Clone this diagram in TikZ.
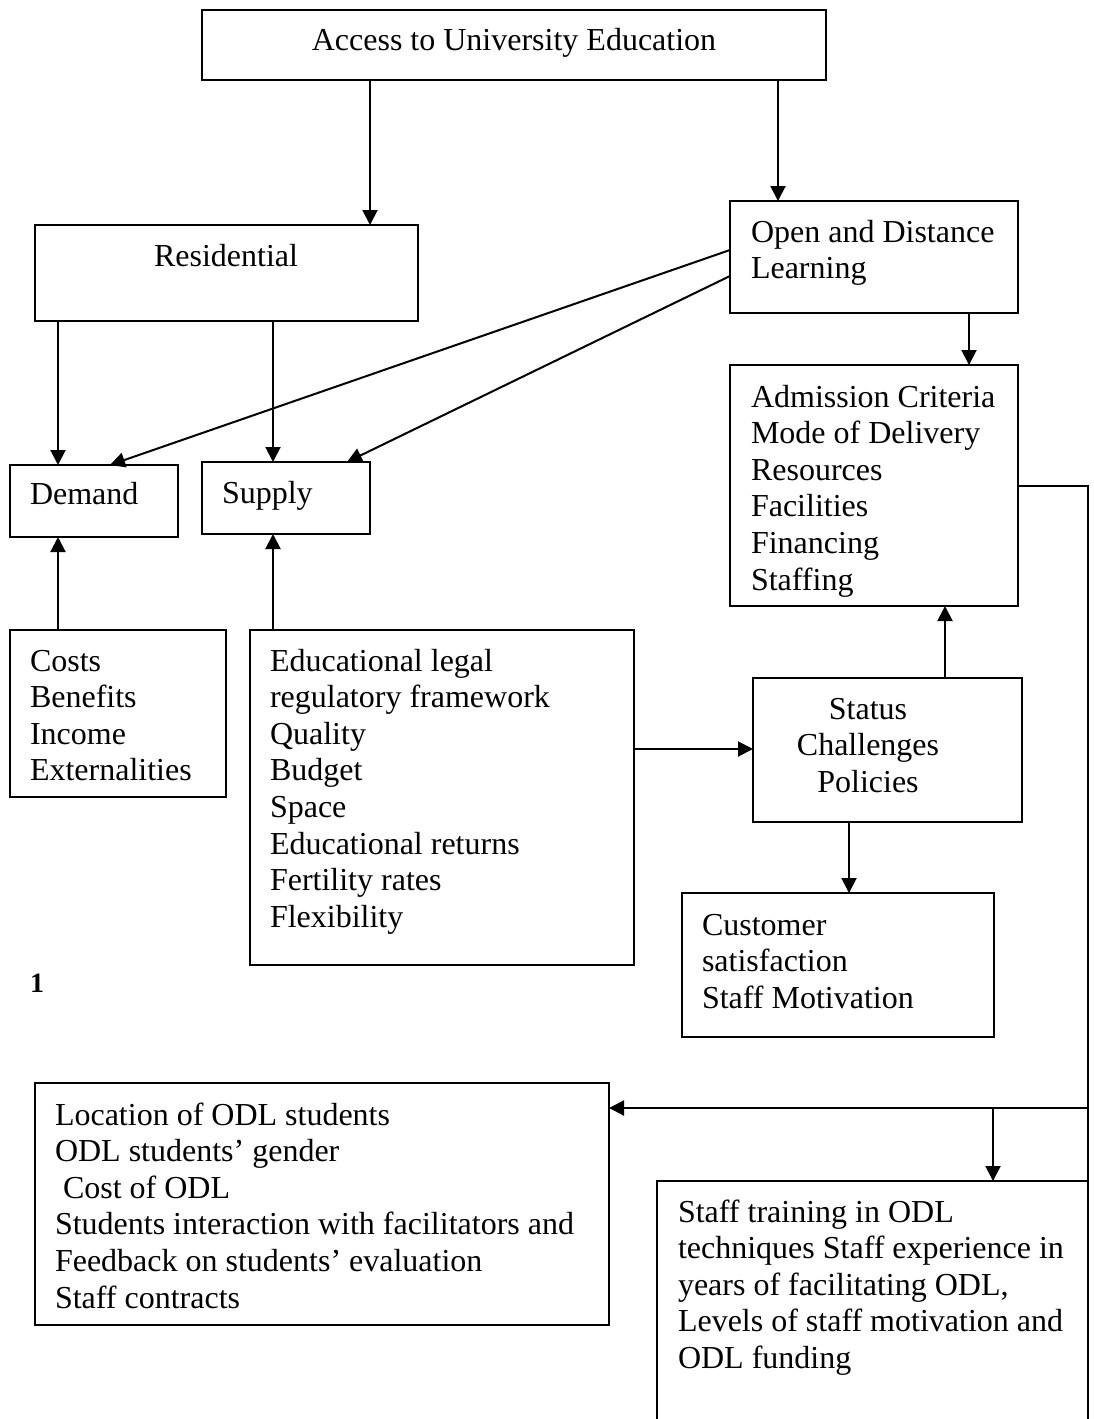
\documentclass[tikz,border=0pt]{standalone}
\usepackage{fontspec}
\setmainfont{Liberation Serif}
\usetikzlibrary{arrows.meta}
\begin{document}
\begin{tikzpicture}[x=1pt,y=-1pt,
  box/.style={draw,line width=2pt,inner sep=0pt,outer sep=0pt,anchor=north west},
  txt/.style={font=\fontsize{32}{36.6}\selectfont,inner sep=0pt,outer sep=0pt,align=left,anchor=base west},
  ctxt/.style={font=\fontsize{32}{36.6}\selectfont,inner sep=0pt,outer sep=0pt,align=center,anchor=base},
  arr/.style={line width=2pt,-{Triangle[length=15pt,width=15pt]}},
  ln/.style={line width=2pt}]
\fill[white] (0,0) rectangle (1093,1419);
\useasboundingbox (0,0) rectangle (1093,1419);
\clip (0,0) rectangle (1093,1419);

% boxes (text nodes are placed by the baseline of their last line)
\node[box,minimum width=624pt,minimum height=70pt] (top) at (202,10) {};
\node[ctxt] (toptxt) at (514,50) {Access to University Education};

\node[box,minimum width=383pt,minimum height=96pt] (res) at (35,225) {};
\node[ctxt] (restxt) at (226,266) {Residential};

\node[box,minimum width=288pt,minimum height=112pt] (odl) at (730,201) {};
\node[txt] (odltxt) at (751,278.6) {Open and Distance\\Learning};

\node[box,minimum width=288pt,minimum height=241pt] (adm) at (730,365) {};
\node[txt] (admtxt) at (751,590) {Admission Criteria\\Mode of Delivery\\Resources\\Facilities\\Financing\\Staffing};

\node[box,minimum width=168pt,minimum height=72pt] (dem) at (10,465) {};
\node[txt] (demtxt) at (30,504) {Demand};

\node[box,minimum width=168pt,minimum height=72pt] (sup) at (202,462) {};
\node[txt] (suptxt) at (222,503) {Supply};

\node[box,minimum width=216pt,minimum height=167pt] (costs) at (10,630) {};
\node[txt] (coststxt) at (30,780.8) {Costs\\Benefits\\Income\\Externalities};

\node[box,minimum width=384pt,minimum height=335pt] (edu) at (250,630) {};
\node[txt] (edutxt) at (270,927.2) {Educational legal\\regulatory framework\\Quality\\Budget\\Space\\Educational returns\\Fertility rates\\Flexibility};

\node[box,minimum width=269pt,minimum height=144pt] (stat) at (753,678) {};
\node[ctxt] (stattxt) at (868,792.2) {Status\\Challenges\\Policies};

\node[box,minimum width=312pt,minimum height=144pt] (cust) at (682,893) {};
\node[txt] (custtxt) at (702,1008.2) {Customer\\satisfaction\\Staff Motivation};

\node[font=\bfseries\fontsize{28}{30}\selectfont,inner sep=0pt,anchor=base west] (one) at (30,992) {1};

\node[box,minimum width=574pt,minimum height=242pt] (lb) at (35,1083) {};
\node[txt] (lbtxt) at (55,1308) {Location of ODL students\\ODL students’ gender\\\hspace*{0.25em}Cost of ODL\\Students interaction with facilitators and\\Feedback on students’ evaluation\\Staff contracts};

\node[box,minimum width=431pt,minimum height=260pt] (rb) at (657,1181) {};
\node[txt] (rbtxt) at (678,1368.4) {Staff training in ODL\\techniques Staff experience in\\years of facilitating ODL,\\Levels of staff motivation and\\ODL funding};

% connectors
\draw[arr] (top.south -| 370,0) -- (res.north -| 370,0);
\draw[arr] (top.south -| 778,0) -- (odl.north -| 778,0);
\draw[arr] (odl.south -| 969,0) -- (adm.north -| 969,0);
\draw[arr] (res.south -| 58,0) -- (dem.north -| 58,0);
\draw[arr] (res.south -| 273,0) -- (sup.north -| 273,0);
\draw[arr] (odl.west |- 0,250) -- (dem.north -| 110,0);
\draw[arr] (odl.west |- 0,276) -- (sup.north -| 347,0);
\draw[arr] (costs.north -| 58,0) -- (dem.south -| 58,0);
\draw[arr] (edu.north -| 273,0) -- (sup.south -| 273,0);
\draw[arr] (edu.east |- 0,749) -- (stat.west |- 0,749);
\draw[arr] (stat.north -| 945,0) -- (adm.south -| 945,0);
\draw[arr] (stat.south -| 849,0) -- (cust.north -| 849,0);

\coordinate (rt) at (1088,486);
\coordinate (rbot) at (1088,1419);
\coordinate (j1) at (1088,1108);
\coordinate (j2) at (993,1108);
\draw[ln] (adm.east |- rt) -- (rt) -- (rbot);
\draw[arr] (j1) -- (lb.east |- j1);
\draw[arr] (j2) -- (rb.north -| j2);
\end{tikzpicture}
\end{document}
